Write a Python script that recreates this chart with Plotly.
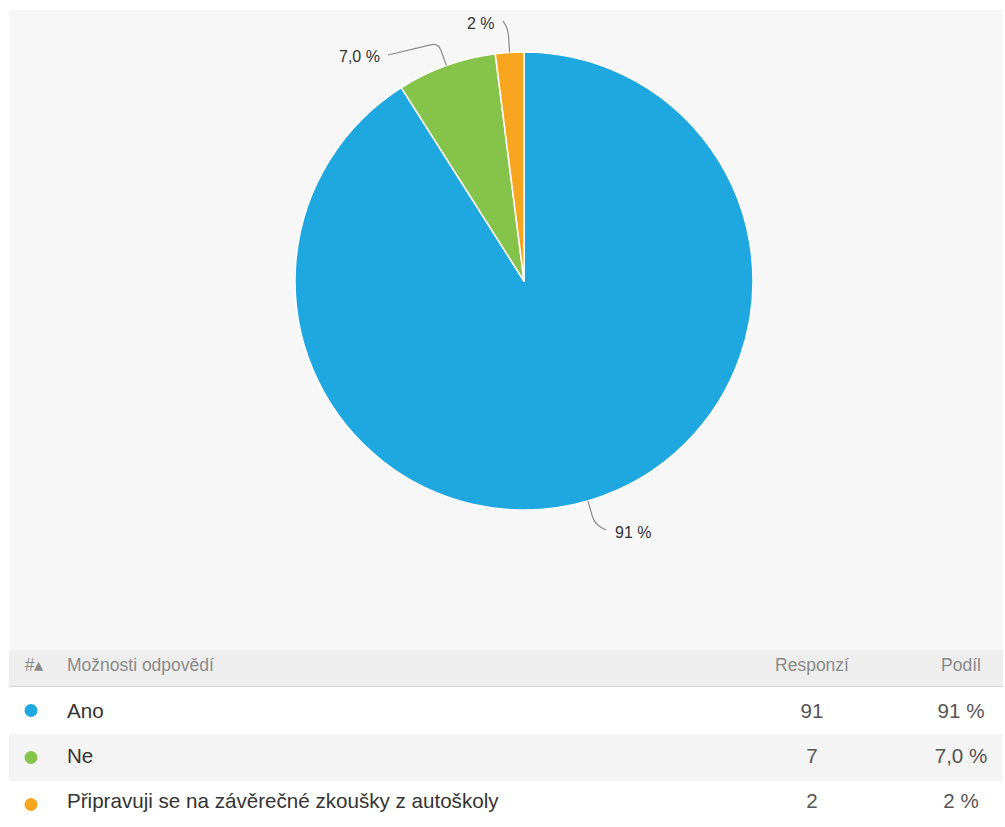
import math
import plotly.graph_objects as go

# Survey answers and counts
answers = ["Ano", "Ne", "Připravuji se na závěrečné zkoušky z autoškoly"]
responses = [91, 7, 2]
shares = ["91 %", "7,0 %", "2 %"]
colors = ["#1fa8e0", "#86c34a", "#f8a61f"]
headers = ["#▴", "Možnosti odpovědí", "Responzí", "", "Podíl"]

W, H = 1005, 827
FONT = "Liberation Sans, Arial, sans-serif"

# pie geometry in pixels
cx, cy, R = 524, 281, 229
panel = dict(x0=9, x1=1003, y0=10, y1=650)

# table geometry in pixels
tbl_x0, tbl_x1, tbl_top = 9, 1003, 650
head_band = 36
row_band = 47
text_lead = 8      # blank strip above the first body row
row_h = 45
col_w = [50, 681, 144, 35, 84]
col_align = ["center", "left", "center", "center", "center"]

# label placement (pixel anchors and side) for the outside labels
label_style = [
    dict(end=(606, 530), text_x=613, anchor="left"),
    dict(end=(388, 55), text_x=382, anchor="right"),
    dict(end=(503, 21), text_x=497, anchor="right"),
]


def px(x):
    return x / W


def py(y):
    return 1 - y / H


fig = go.Figure()

fig.add_trace(go.Pie(
    labels=answers,
    values=responses,
    marker=dict(colors=colors, line=dict(color="white", width=1.5)),
    sort=False,
    direction="clockwise",
    rotation=0,
    textinfo="none",
    hoverinfo="label+value+percent",
    showlegend=False,
    domain=dict(x=[px(cx - R), px(cx + R)], y=[py(cy + R), py(cy - R)]),
))

# connectors and labels computed from slice mid-angles
total = sum(responses)
shapes = [dict(type="rect", xref="paper", yref="paper",
               x0=px(panel["x0"]), x1=px(panel["x1"]),
               y0=py(panel["y1"]), y1=py(panel["y0"]),
               fillcolor="#f7f7f7", line=dict(width=0), layer="below")]
annotations = []
start = 0.0
for val, txt, st in zip(responses, shares, label_style):
    mid = (start + val / 2) / total * 2 * math.pi
    start += val
    ux, uy = math.sin(mid), -math.cos(mid)
    p0 = (cx + R * ux, cy + R * uy)
    b = (cx + (R + 24) * ux, cy + (R + 24) * uy)
    b1 = (cx + (R + 16) * ux, cy + (R + 16) * uy)
    ex, ey = st["end"]
    dx, dy = ex - b[0], ey - b[1]
    d = math.hypot(dx, dy) or 1
    b2 = (b[0] + 8 * dx / d, b[1] + 8 * dy / d)
    path = (f"M {px(p0[0])},{py(p0[1])} L {px(b1[0])},{py(b1[1])} "
            f"Q {px(b[0])},{py(b[1])} {px(b2[0])},{py(b2[1])} "
            f"L {px(ex)},{py(ey)}")
    shapes.append(dict(type="path", xref="paper", yref="paper", path=path,
                       line=dict(color="#8a8a8a", width=1.2)))
    annotations.append(dict(
        x=px(st["text_x"]), y=py(ey + 2), xref="paper", yref="paper",
        text=txt, showarrow=False, xanchor=st["anchor"], yanchor="middle",
        font=dict(family=FONT, size=16, color="#333333")))

# table bands: header, then alternating rows
body_top = tbl_top + head_band + 1
shapes.append(dict(type="rect", xref="paper", yref="paper", layer="below",
                   x0=px(tbl_x0), x1=px(tbl_x1),
                   y0=py(tbl_top + head_band), y1=py(tbl_top),
                   fillcolor="#eeeeee", line=dict(width=0)))
shapes.append(dict(type="line", xref="paper", yref="paper",
                   x0=px(tbl_x0), x1=px(tbl_x1),
                   y0=py(tbl_top + head_band + 0.5), y1=py(tbl_top + head_band + 0.5),
                   line=dict(color="#d8d8d8", width=1)))
for i in range(len(answers)):
    top = body_top + i * row_band
    if i % 2 == 1:
        shapes.append(dict(type="rect", xref="paper", yref="paper", layer="below",
                           x0=px(tbl_x0), x1=px(tbl_x1),
                           y0=py(top + row_band), y1=py(top),
                           fillcolor="#f4f4f4", line=dict(width=0)))

clear = "rgba(0,0,0,0)"

# header row
fig.add_trace(go.Table(
    domain=dict(x=[px(tbl_x0), px(tbl_x1)], y=[py(tbl_top + head_band), py(tbl_top)]),
    columnwidth=col_w,
    header=dict(values=headers, align=col_align,
                fill=dict(color=clear), line=dict(width=0, color=clear),
                font=dict(family=FONT, size=17.5, color="#8a8a8a"),
                height=head_band),
    cells=dict(values=[[] for _ in headers], fill=dict(color=clear),
               line=dict(width=0, color=clear), height=1),
))

# body rows
fig.add_trace(go.Table(
    domain=dict(x=[px(tbl_x0), px(tbl_x1)], y=[0, py(body_top)]),
    columnwidth=col_w,
    header=dict(values=[""] * len(headers), fill=dict(color=clear),
                line=dict(width=0, color=clear), height=text_lead,
                font=dict(size=1)),
    cells=dict(
        values=[[""] * len(answers), answers, responses,
                [""] * len(answers), shares],
        align=col_align,
        fill=dict(color=clear),
        line=dict(width=0, color=clear),
        font=dict(family=FONT, size=20.6,
                  color=["#333333", "#333333", "#555555", "#555555", "#555555"]),
        height=row_h,
    ),
))

# colour dots in the first column, on a full-page pixel axis
fig.add_trace(go.Scatter(
    x=[31] * len(answers),
    y=[body_top + (i + 0.5) * row_band for i in range(len(answers))],
    mode="markers",
    marker=dict(color=colors, size=13, line=dict(width=0)),
    hoverinfo="skip", showlegend=False,
))

fig.update_layout(
    width=W, height=H,
    margin=dict(l=0, r=0, t=0, b=0),
    paper_bgcolor="white",
    plot_bgcolor="rgba(0,0,0,0)",
    shapes=shapes,
    annotations=annotations,
    xaxis=dict(range=[0, W], domain=[0, 1], visible=False, fixedrange=True),
    yaxis=dict(range=[H, 0], domain=[0, 1], visible=False, fixedrange=True),
)

fig.write_html("out.html")
